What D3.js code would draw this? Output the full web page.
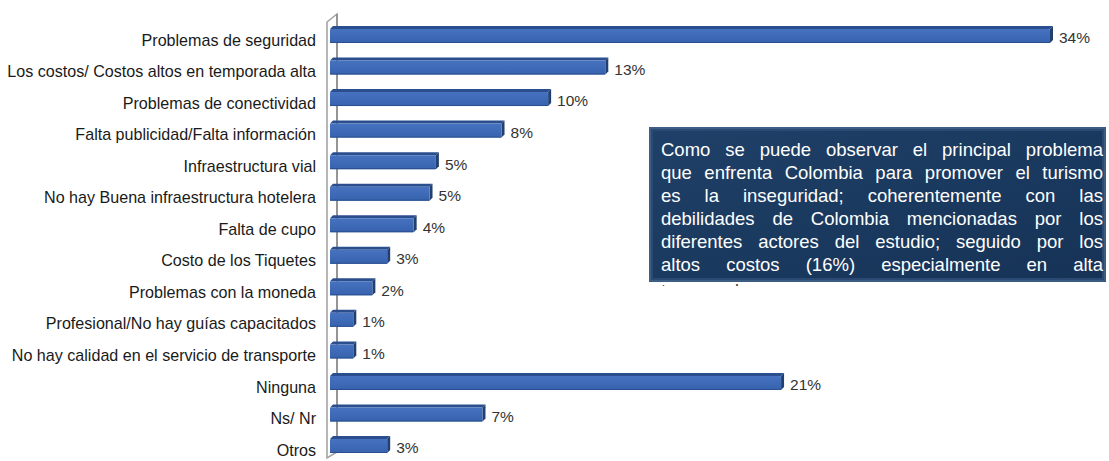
<!DOCTYPE html>
<html><head><meta charset="utf-8">
<script src="https://cdn.jsdelivr.net/npm/d3@7"></script>
<style>body{margin:0;background:#fff}svg{display:block;font-family:"Liberation Sans",Arial,sans-serif}</style>
</head><body>
<svg id="c" width="1109" height="461"></svg>
<script>
const categories = ["Problemas de seguridad","Los costos/ Costos altos en temporada alta","Problemas de conectividad","Falta publicidad/Falta información","Infraestructura vial","No hay Buena infraestructura hotelera","Falta de cupo","Costo de los Tiquetes","Problemas con la moneda","Profesional/No hay guías capacitados","No hay calidad en el servicio de transporte","Ninguna","Ns/ Nr","Otros"];
const values = [34, 13.0, 10.3, 8.1, 5.0, 4.7, 3.95, 2.7, 2.0, 1.1, 1.1, 21.3, 7.2, 2.7];
const valueLabels = ["34%","13%","10%","8%","5%","5%","4%","3%","2%","1%","1%","21%","7%","3%"];
const noteLines = [
 "Como se puede observar el principal problema",
 "que enfrenta Colombia para promover el turismo",
 "es la inseguridad; coherentemente con las",
 "debilidades de Colombia mencionadas por los",
 "diferentes actores del estudio;  seguido por los",
 "altos costos (16%)   especialmente en alta",
 "temporada."
];

const svg = d3.select("#c");
const x = d3.scaleLinear().domain([0,34]).range([330,1050]);
const y = d3.scaleBand().domain(categories).range([19.2,460.8]).paddingInner(0);
const bh = 14, dep = 3;

const defs = svg.append("defs");
const g1 = defs.append("linearGradient").attr("id","bar").attr("x1",0).attr("y1",0).attr("x2",0).attr("y2",1);
g1.append("stop").attr("offset","0%").attr("stop-color","#4672bf");
g1.append("stop").attr("offset","100%").attr("stop-color","#3762ae");
const g2 = defs.append("linearGradient").attr("id","box").attr("x1",0).attr("y1",0).attr("x2",1).attr("y2",1);
g2.append("stop").attr("offset","0%").attr("stop-color","#1f4068");
g2.append("stop").attr("offset","100%").attr("stop-color","#163356");

// wall
const wallTop = 14, wallBot = 458;
svg.append("path")
  .attr("d",`M327,${wallBot} L327,${wallTop+8} L337,${wallTop} L337,${wallBot-6} Z`)
  .attr("fill","#fff").attr("stroke","#a0a0a0").attr("stroke-width",1.5);
svg.append("line").attr("x1",337).attr("x2",337).attr("y1",wallTop).attr("y2",wallBot-6)
  .attr("stroke","#8a8a8a").attr("stroke-width",1.5);

// bars
const rows = svg.append("g").selectAll("g").data(categories).join("g");
rows.each(function(c,i){
  const g = d3.select(this);
  const cy = y(c) + y.bandwidth()/2;
  const top = cy - bh/2 + 1, x0 = x(0), x1 = x(values[i]);
  g.append("path").attr("d",`M${x0},${top} L${x0+dep},${top-dep} L${x1+dep},${top-dep} L${x1},${top} Z`).attr("fill","#2b4f8e");
  g.append("path").attr("d",`M${x1},${top} L${x1+dep},${top-dep} L${x1+dep},${top-dep+bh} L${x1},${top+bh} Z`).attr("fill","#22406f");
  g.append("rect").attr("x",x0).attr("y",top).attr("width",x1-x0).attr("height",bh).attr("fill","url(#bar)").attr("rx",1);
  g.append("line").attr("x1",x0).attr("x2",x1).attr("y1",top+bh-0.5).attr("y2",top+bh-0.5).attr("stroke","#2a4f8f").attr("stroke-width",1);
  g.append("text").attr("x",x1+dep+6).attr("y",cy+3).attr("dy","0.35em")
    .attr("font-size",15.5).attr("fill","#333").text(valueLabels[i]);
  g.append("text").attr("x",316).attr("y",cy+5).attr("dy","0.35em").attr("text-anchor","end")
    .attr("font-size",16.1).attr("fill","#1a1a1a").text(c);
});

// text box
const bx = 649, by = 127, bw = 457, bhh = 155;
defs.append("clipPath").attr("id","clipBelow").append("rect").attr("x",bx).attr("y",by+bhh).attr("width",bw).attr("height",4);
svg.append("rect").attr("x",bx).attr("y",by).attr("width",bw).attr("height",bhh).attr("fill","url(#box)");
svg.append("rect").attr("x",bx+1).attr("y",by+1).attr("width",bw-2).attr("height",bhh-2).attr("fill","none").attr("stroke","#4d6c93").attr("stroke-width",2).attr("opacity",0.7);
svg.append("rect").attr("x",bx+3).attr("y",by+3).attr("width",bw-6).attr("height",bhh-6).attr("fill","none").attr("stroke","#2a4a73").attr("stroke-width",2);

const tx0 = 661, tx1 = 1103, lh = 23, fs = 18.5;
noteLines.forEach((line,li)=>{
  const words = line.split(/\s+/);
  const last = li === noteLines.length-1;
  const base = 156 + li*lh + (last ? 3 : 0);
  const grp = svg.append("g");
  if(last) grp.attr("clip-path","url(#clipBelow)");
  const ts = words.map(w=>grp.append("text").attr("y",base).attr("font-size",fs).attr("fill", last ? "#444" : "#fff").text(w));
  const widths = ts.map(t=>t.node().getComputedTextLength());
  const tot = d3.sum(widths);
  const gap = (last || words.length<2) ? fs*0.28 : (tx1-tx0-tot)/(words.length-1);
  let cx = tx0;
  ts.forEach((t,k)=>{ t.attr("x",cx); cx += widths[k] + gap; });
});
</script>
</body></html>
